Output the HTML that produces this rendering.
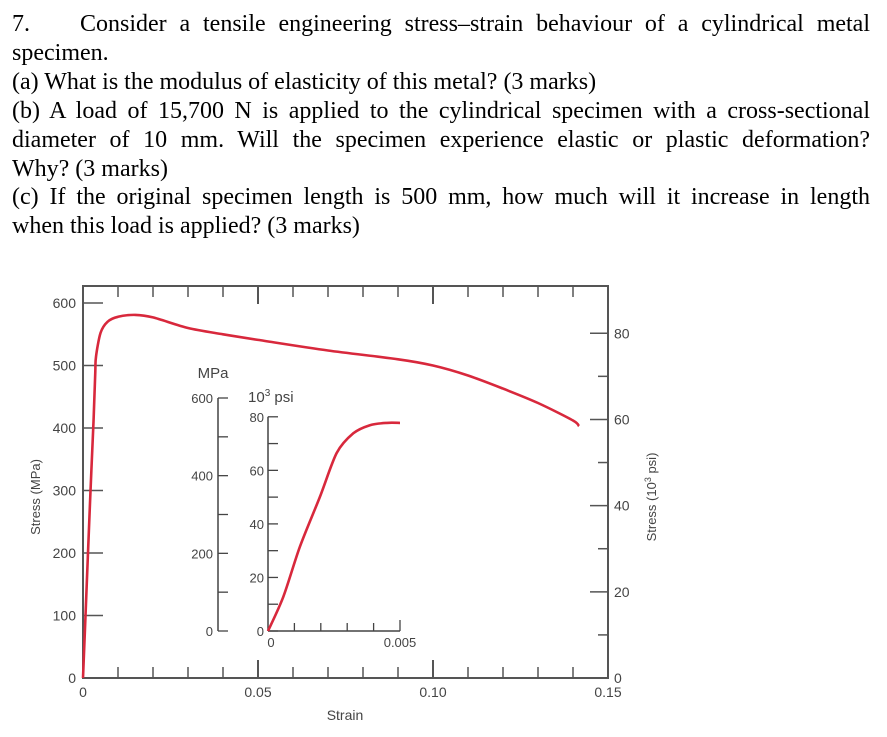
<!DOCTYPE html>
<html><head><meta charset="utf-8">
<style>
body{margin:0;width:887px;height:737px;background:#fff;overflow:hidden;position:relative}
.q{position:absolute;left:12px;width:858px;font-family:"Liberation Serif",serif;font-size:24px;color:#000;white-space:nowrap;line-height:29px}
.j{text-align:justify;text-align-last:justify;white-space:normal}
svg{position:absolute;left:0;top:0}
svg text{font-family:"Liberation Sans",sans-serif;fill:#444}
</style></head><body>
<div class="q j" style="top:10px"><span style="display:inline-block;width:68px;text-align:left">7.</span>Consider a tensile engineering stress–strain behaviour of a cylindrical metal</div>
<div class="q" style="top:39px">specimen.</div>
<div class="q" style="top:68px">(a) What is the modulus of elasticity of this metal? (3 marks)</div>
<div class="q j" style="top:97px">(b) A load of 15,700 N is applied to the cylindrical specimen with a cross-sectional</div>
<div class="q j" style="top:126px">diameter of 10 mm. Will the specimen experience elastic or plastic deformation?</div>
<div class="q" style="top:155px">Why? (3 marks)</div>
<div class="q j" style="top:183px">(c) If the original specimen length is 500 mm, how much will it increase in length</div>
<div class="q" style="top:212px">when this load is applied? (3 marks)</div>
<svg id="chart" width="887" height="737"></svg>
<script>
const mainStrain=[0,0.001,0.002,0.003,0.0035,0.0037,0.005,0.007,0.01,0.015,0.02,0.03,0.04,0.05,0.07,0.09,0.10,0.11,0.12,0.13,0.14,0.1417];
const mainStress=[0,140,280,410,490,514,552,570,578,581,577,560,550,541,524,510,500,484,463,440,412,403];
const insetStrain=[0,0.00058,0.00121,0.00197,0.0026,0.00323,0.00386,0.0045,0.005];
const insetStress=[0,88,217,346,458,509,530,536,536];
const yTicksMPa=[0,100,200,300,400,500,600];
const xTicks=[0,0.05,0.10,0.15];
const xTickLabels=["0","0.05","0.10","0.15"];
const psiTicks=[0,20,40,60,80];
const insetMPaTicks=[0,200,400,600];
const insetPsiTicks=[0,20,40,60,80];
const NS="http://www.w3.org/2000/svg";
const svg=document.getElementById('chart');
function el(t,a,txt){const e=document.createElementNS(NS,t);for(const k in a)e.setAttribute(k,a[k]);if(txt!==undefined)e.textContent=txt;svg.appendChild(e);return e;}
function smooth(p){let d='M'+p[0][0].toFixed(1)+','+p[0][1].toFixed(1);
 for(let i=0;i<p.length-1;i++){const a=p[i-1]||p[i],b=p[i],c=p[i+1],n=p[i+2]||c;
  const t=0.15;
  d+='C'+(b[0]+(c[0]-a[0])*t).toFixed(1)+','+(b[1]+(c[1]-a[1])*t).toFixed(1)+' '+(c[0]-(n[0]-b[0])*t).toFixed(1)+','+(c[1]-(n[1]-b[1])*t).toFixed(1)+' '+c[0].toFixed(1)+','+c[1].toFixed(1);}
 return d;}
const X0=83,X1=608,Y0=678,YT=286;
const sx=v=>X0+v/0.15*(X1-X0);
const sy=v=>Y0-v*0.625;
const spsi=v=>Y0-v*6.895*0.625;
let e;
e=el('rect',{x:X0,y:YT,width:X1-X0,height:Y0-YT,fill:'none',stroke:'#555','stroke-width':2});

for(let i=1;i<15;i++){const x=sx(i*0.01);const big=i%5==0;
 el('line',{x1:x,y1:YT,x2:x,y2:YT+(big?18:11),stroke:'#555','stroke-width':big?2:1.5});
 el('line',{x1:x,y1:Y0,x2:x,y2:Y0-(big?18:11),stroke:'#555','stroke-width':big?2:1.5});}
yTicksMPa.forEach(v=>{const y=sy(v);
 el('line',{x1:X0,y1:y,x2:X0+20,y2:y,stroke:'#555','stroke-width':1.5});
 e=el('text',{x:X0-7,y:y+5,'text-anchor':'end','font-size':14},String(v));
 });
for(let v=10;v<=80;v+=10){const y=spsi(v);el('line',{x1:X1,y1:y,x2:X1-(v%20==0?18:10),y2:y,stroke:'#555','stroke-width':1.5});}
psiTicks.forEach(v=>{const y=spsi(v);
 e=el('text',{x:X1+6,y:y+5,'font-size':14},String(v));
 });
xTicks.forEach((v,i)=>{
 e=el('text',{x:sx(v),y:Y0+19,'text-anchor':'middle','font-size':14},xTickLabels[i]);
 });
e=el('text',{x:345,y:720,'text-anchor':'middle','font-size':14},'Strain');

e=el('text',{x:0,y:0,'text-anchor':'middle','font-size':13,transform:'translate(40,497) rotate(-90)'},'Stress (MPa)');

e=el('text',{x:0,y:0,'text-anchor':'middle','font-size':13,transform:'translate(656,497) rotate(-90)'});
e.innerHTML='Stress (10<tspan dy="-5" font-size="9">3</tspan><tspan dy="5"> psi)</tspan>';

e=el('path',{d:smooth(mainStrain.map((v,i)=>[sx(v),sy(mainStress[i])])),fill:'none',stroke:'#d8283c','stroke-width':2.6,'stroke-linejoin':'round'});

const IX=268,IX1=400,IY=631,IMPaX=218,IMPaTop=398;
const isx=v=>IX+v/0.005*(IX1-IX);
const isy=v=>IY-v*(IY-IMPaTop)/600;
const ipsi=v=>isy(v*6.895);
el('line',{x1:IMPaX,y1:IMPaTop,x2:IMPaX,y2:IY,stroke:'#444','stroke-width':1.5});
for(let v=0;v<=600;v+=100){el('line',{x1:IMPaX,y1:isy(v),x2:IMPaX+10,y2:isy(v),stroke:'#444','stroke-width':1.3});}
insetMPaTicks.forEach(v=>{e=el('text',{x:IMPaX-5,y:isy(v)+5,'text-anchor':'end','font-size':13},String(v));
 });
el('line',{x1:IX,y1:ipsi(80),x2:IX,y2:IY,stroke:'#444','stroke-width':1.5});
for(let v=0;v<=80;v+=10){el('line',{x1:IX,y1:ipsi(v),x2:IX+10,y2:ipsi(v),stroke:'#444','stroke-width':1.3});}
insetPsiTicks.forEach(v=>{e=el('text',{x:IX-4,y:ipsi(v)+5,'text-anchor':'end','font-size':13},String(v));
 });
el('line',{x1:IX,y1:IY,x2:IX1,y2:IY,stroke:'#444','stroke-width':1.5});
for(let i=1;i<=5;i++){const x=isx(i*0.001);el('line',{x1:x,y1:IY,x2:x,y2:IY-(i==5?11:8),stroke:'#444','stroke-width':1.3});}
e=el('text',{x:IX+3,y:IY+16,'text-anchor':'middle','font-size':13},'0');
e=el('text',{x:IX1,y:IY+16,'text-anchor':'middle','font-size':13},'0.005');

e=el('text',{x:213,y:378,'text-anchor':'middle','font-size':15},'MPa');

e=el('text',{x:248,y:402,'font-size':15});
e.innerHTML='10<tspan dy="-6" font-size="10">3</tspan><tspan dy="6"> psi</tspan>';

e=el('path',{d:smooth(insetStrain.map((v,i)=>[isx(v),isy(insetStress[i])])),fill:'none',stroke:'#d8283c','stroke-width':2.6,'stroke-linejoin':'round'});

</script>
</body></html>
